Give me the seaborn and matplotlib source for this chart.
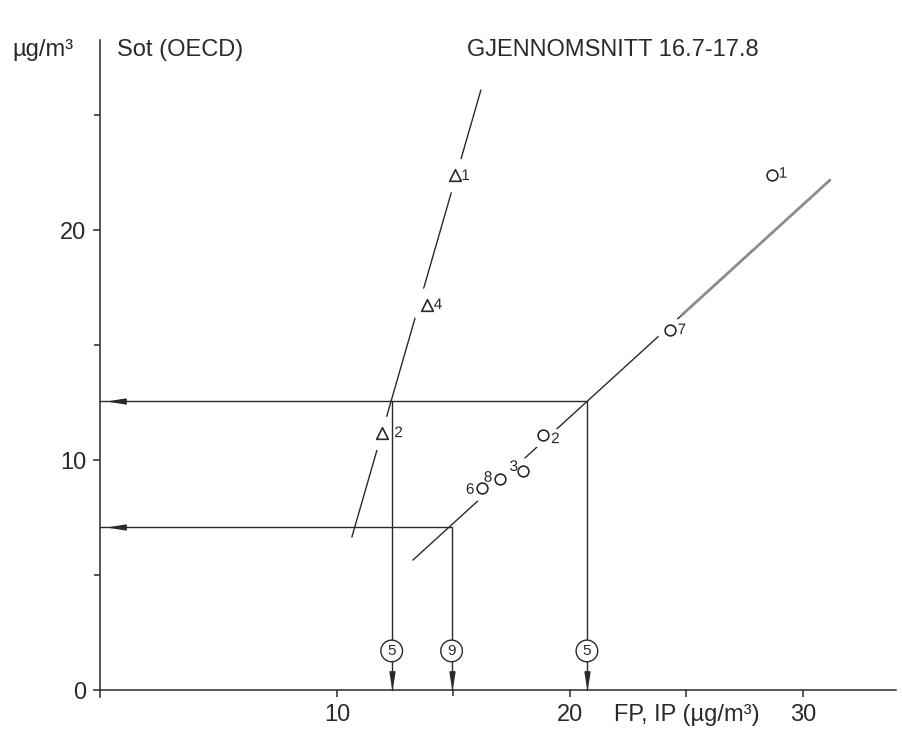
import matplotlib
matplotlib.use("Agg")
import matplotlib.pyplot as plt
import matplotlib.patheffects as pe
import seaborn as sns

sns.set_theme(style="ticks")
plt.rcParams["font.family"] = ["Liberation Sans", "DejaVu Sans"]

INK = "#2a2a2a"

# Soot (OECD) against FP (triangles) and IP (circles), station averages
fp_station = ["1", "4", "2"]
fp_value = [15.06, 13.86, 11.93]
fp_soot = [22.39, 16.74, 11.17]

ip_station = ["1", "7", "2", "3", "8", "6"]
ip_value = [28.67, 24.29, 18.84, 17.98, 17.0, 16.22]
ip_soot = [22.39, 15.65, 11.09, 9.52, 9.17, 8.78]

# fitted lines, given by their end points
fp_fit_x = [10.64, 16.18]
fp_fit_y = [6.65, 26.09]
ip_fit_x = [13.26, 24.8]
ip_fit_y = [5.65, 16.3]
ip_ext_x = [24.8, 31.16]
ip_ext_y = [16.3, 22.17]

# soot levels read across to the lines and down to the FP/IP axis
soot_levels = [12.57, 7.1]
level_end_x = [20.73, 14.92]
read_x = [12.35, 20.73, 14.92]
read_level = [12.57, 12.57, 7.1]
read_count = ["5", "5", "9"]

x_ticks = [10, 20, 25, 30]
x_labels = ["10", "20", "FP, IP (µg/m³)", "30"]
y_ticks = [0, 10, 20]

# label offsets next to the symbols (points)
fp_offsets = [(7.7, -0.7), (8, 0), (12, 0)]
ip_offsets = [(8, 1), (8.6, 0), (9, -3), (-6.5, 3), (-8.6, 1), (-8.4, -1.2)]

fig = plt.figure(figsize=(9.02, 7.31), dpi=100)
ax = fig.add_axes([0.1109, 0.0466, 0.8825, 0.8986])
ax.set_xlim(-0.17, 34.0)
ax.set_ylim(-0.3, 28.26)
sns.despine(ax=ax)
ax.spines["bottom"].set_position(("data", 0))
for s in ("left", "bottom"):
    ax.spines[s].set_color(INK)
    ax.spines[s].set_linewidth(1.1)

ax.set_xticks(x_ticks)
ax.set_xticklabels(x_labels)
ax.set_xticks([15], minor=True)
ax.set_yticks(y_ticks)
ax.set_yticks([5, 15, 25], minor=True)
ax.tick_params(which="both", direction="out", color=INK, width=1.1,
               labelsize=17, labelcolor=INK)
ax.tick_params(which="major", length=5)
ax.tick_params(which="minor", length=4.5)
ax.tick_params(axis="x", pad=5)
ax.tick_params(axis="y", pad=5)

# fitted lines
sns.lineplot(x=fp_fit_x, y=fp_fit_y, color=INK, lw=1.0, ax=ax, zorder=1)
sns.lineplot(x=ip_fit_x, y=ip_fit_y, color=INK, lw=1.0, ax=ax, zorder=1)
sns.lineplot(x=ip_ext_x, y=ip_ext_y, color="#8c8c8c", lw=2.0, ax=ax, zorder=1)

# white clearings around symbols so the fitted lines break there
ax.plot(fp_value, fp_soot, ls="none", marker="o", ms=25, mfc="white",
        mec="none", zorder=2)
ax.plot(ip_value, ip_soot, ls="none", marker="o", ms=19, mfc="white",
        mec="none", zorder=2)

# read-off lines
left_arrow = [(-1, 0), (1, 0.32), (1, -0.32), (-1, 0)]
down_arrow = [(0, -1), (0.32, 1), (-0.32, 1), (0, -1)]
x0 = ax.get_xlim()[0]
for lvl, xe in zip(soot_levels, level_end_x):
    ax.plot([x0, xe], [lvl, lvl], color=INK, lw=1.0, zorder=3)
    ax.plot([0.58], [lvl], ls="none", marker=left_arrow, ms=11,
            color=INK, zorder=3)
for xv, lvl, n in zip(read_x, read_level, read_count):
    ax.plot([xv, xv], [lvl, 0], color=INK, lw=1.0, zorder=3)
    ax.plot([xv], [0.46], ls="none", marker=down_arrow, ms=11,
            color=INK, zorder=3)
    ax.text(xv, 1.7, n, ha="center", va="center", fontsize=11, color=INK,
            zorder=5,
            bbox=dict(boxstyle="circle,pad=0.25", fc="white", ec=INK, lw=1.0))

# symbols
sns.scatterplot(x=fp_value, y=fp_soot, marker="^", s=70, facecolor="white",
                edgecolor=INK, linewidth=1.2, ax=ax, zorder=4)
sns.scatterplot(x=ip_value, y=ip_soot, marker="o", s=60, facecolor="white",
                edgecolor=INK, linewidth=1.2, ax=ax, zorder=4)

halo = [pe.withStroke(linewidth=5, foreground="white")]
for xv, yv, lab, off in zip(fp_value, fp_soot, fp_station, fp_offsets):
    ax.annotate(lab, (xv, yv), xytext=off, textcoords="offset points",
                ha="center", va="center", fontsize=11, color=INK,
                path_effects=halo, zorder=2.5)
for xv, yv, lab, off in zip(ip_value, ip_soot, ip_station, ip_offsets):
    ax.annotate(lab, (xv, yv), xytext=off, textcoords="offset points",
                ha="center", va="center", fontsize=11, color=INK,
                path_effects=halo, zorder=2.5)

# headings
fig.text(0.0133, 1 - 50 / 731, "µg/m³", ha="left", va="center",
         fontsize=17, color=INK)
ax.text(0.56, 27.83, "Sot (OECD)", ha="left", va="center",
        fontsize=17, color=INK)
ax.text(15.6, 27.83, "GJENNOMSNITT 16.7-17.8", ha="left", va="center",
        fontsize=17, color=INK)

fig.savefig("out.png", dpi=100, facecolor="white")
